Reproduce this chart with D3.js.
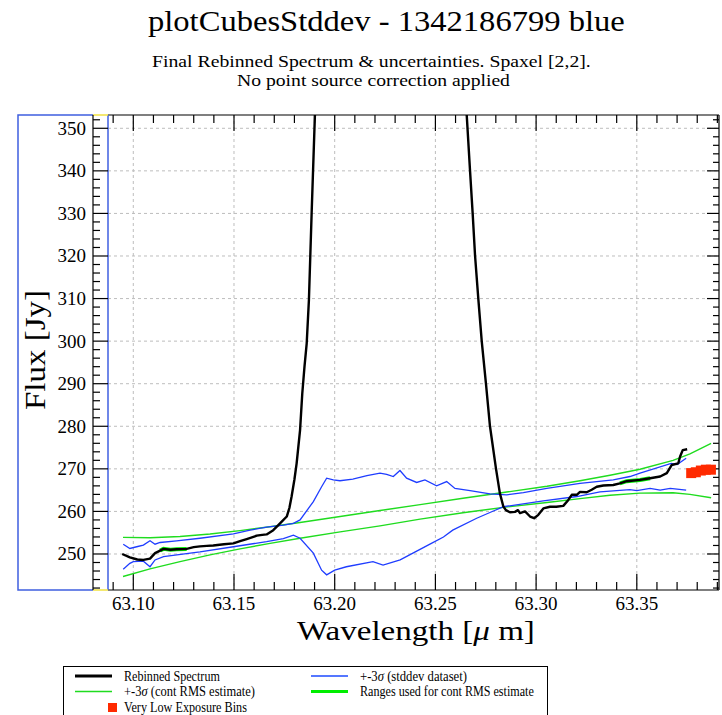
<!DOCTYPE html>
<html><head><meta charset="utf-8">
<script src="https://cdn.jsdelivr.net/npm/d3@7"></script>
<style>html,body{margin:0;padding:0;background:#fff;} svg{display:block;font-family:"Liberation Serif","Times New Roman",serif;}</style>
</head><body><svg id="c" width="722" height="715"></svg>
<script>
// ---------- DATA ----------
const specWave = [63.0945,63.0983,63.1020,63.1050,63.1083,63.1108,63.1133,63.1150,63.1185,63.1215,63.1265,63.1300,63.1331,63.1365,63.1397,63.1450,63.1497,63.1530,63.1563,63.1613,63.1640,63.1662,63.1695,63.1720,63.1737,63.1762,63.1775,63.1786,63.1800,63.1811,63.1828,63.1839,63.1850,63.1861,63.1872,63.1886,63.1902,63.1930,63.1980,63.2100,63.2280,63.2450,63.2570,63.2625,63.2655,63.2672,63.2685,63.2697,63.2713,63.2730,63.2751,63.2771,63.2801,63.2820,63.2837,63.2850,63.2870,63.2895,63.2910,63.2920,63.2945,63.2970,63.2990,63.3011,63.3036,63.3069,63.3100,63.3135,63.3160,63.3177,63.3202,63.3218,63.3251,63.3276,63.3301,63.3334,63.3383,63.3416,63.3450,63.3516,63.3566,63.3616,63.3649,63.3673,63.3706,63.3715,63.3728,63.3750];
const specFlux = [250.0,249.2,248.7,248.6,248.9,250.2,250.8,251.2,251.0,251.1,251.2,251.6,251.8,251.9,252.0,252.3,252.5,253.0,253.5,254.3,254.5,254.6,255.6,256.8,257.6,258.8,260.8,263.5,267.5,271.3,279.1,287.7,294.0,299.5,309.7,330.8,353.5,400,480,620,700,620,480,390,353.5,340,330,320,310,300,290,280,270,264.3,261.2,260.3,259.8,259.9,260.3,259.6,260.0,258.8,258.4,259.2,260.7,261.1,261.1,261.3,262.7,263.9,263.9,264.6,264.5,265.1,265.8,266.1,266.2,266.6,267.1,267.4,267.8,268.2,269.0,270.9,271.3,272.9,274.4,274.6];

const stdUpWave = [63.0950,63.0983,63.1017,63.1050,63.1083,63.1108,63.1133,63.1215,63.1331,63.1497,63.1580,63.1662,63.1745,63.1795,63.1828,63.1894,63.1935,63.1960,63.1993,63.2026,63.2090,63.2160,63.2225,63.2258,63.2291,63.2324,63.2357,63.2407,63.2448,63.2506,63.2556,63.2597,63.2672,63.2771,63.2854,63.2937,63.3053,63.3218,63.3383,63.3466,63.3516,63.3671,63.3700,63.3745];
const stdUpFlux = [252.3,251.3,251.7,252.1,253.1,252.3,252.7,253.1,253.7,254.7,255.6,256.3,256.8,257.2,258.0,262.3,265.8,267.8,267.4,267.2,267.6,268.4,269.0,268.7,268.2,269.6,267.8,266.8,267.4,266.0,267.0,265.4,264.9,264.1,263.9,264.4,265.4,266.6,267.4,268.2,269.0,271.3,271.0,272.5];

const stdLoWave = [63.0950,63.0983,63.1000,63.1050,63.1083,63.1108,63.1150,63.1331,63.1497,63.1662,63.1745,63.1795,63.1828,63.1894,63.1935,63.1960,63.2000,63.2058,63.2190,63.2240,63.2325,63.2400,63.2480,63.2540,63.2586,63.2705,63.2788,63.2838,63.3036,63.3202,63.3317,63.3466,63.3500,63.3566,63.3616,63.3666,63.3745];
const stdLoFlux = [246.4,247.8,248.2,248.3,247.0,248.6,249.4,250.5,251.7,252.9,253.6,254.4,253.7,250.2,246.2,245.1,246.2,247.0,248.2,247.4,248.6,250.5,252.5,254.0,255.6,258.4,260.1,261.1,262.5,263.5,264.6,265.1,264.9,265.4,265.0,265.4,265.0];

const rmsWave = [63.0949,63.1083,63.1232,63.1381,63.1530,63.1679,63.1828,63.2027,63.2225,63.2424,63.2637,63.2846,63.3054,63.3218,63.3367,63.3516,63.3680,63.3764,63.3869];
const rmsUpFlux = [253.9,253.8,254.1,254.7,255.5,256.4,257.4,258.8,260.2,261.6,263.1,264.5,265.9,267.2,268.5,269.9,272.0,273.5,276.0];
const rmsLoFlux = [244.7,246.5,248.2,249.8,251.2,252.5,253.7,255.2,256.6,258.2,259.7,261.0,262.1,263.0,263.8,264.3,264.4,264.0,263.2];

const rangeStart = [63.1120, 63.3390];
const rangeEnd   = [63.1275, 63.3570];

const lowExpWave = [63.3770, 63.3793, 63.3818, 63.3843, 63.3868];
const lowExpFlux = [269.0, 269.2, 269.6, 269.8, 269.8];

const xMajorTicks = [63.10, 63.15, 63.20, 63.25, 63.30, 63.35];
const xTickLabels = ["63.10","63.15","63.20","63.25","63.30","63.35"];
const yMajorTicks = [250, 260, 270, 280, 290, 300, 310, 320, 330, 340, 350];

const titleText = "plotCubesStddev - 1342186799 blue";
const subtitle1 = "Final Rebinned Spectrum & uncertainties. Spaxel [2,2].";
const subtitle2 = "No point source correction applied";

// ---------- LAYOUT ----------
const L = 108, R = 719, T = 115, B = 590;
const x = d3.scaleLinear().domain([63.08744, 63.39081]).range([L, R]);
const y = d3.scaleLinear().domain([241.54, 353.12]).range([B, T]);

const svg = d3.select("#c");
const BLUE = "#1f3dff", GREEN = "#1fdc1f", LIME = "#00ee00", RED = "#ff2a00";

// text placed at (px,py) and horizontally scaled to a target width
function label(parent, px, py, size, parts, width, rotate) {
  const g = parent.append("g");
  const t = g.append("text").attr("x", 0).attr("y", 0).attr("font-size", size);
  parts.forEach(p => {
    const s = t.append("tspan").text(p[0]);
    if (p[1]) s.attr("font-style", "italic");
  });
  const w = t.node().getComputedTextLength();
  const sx = width / w;
  g.attr("transform", `translate(${px},${py})` + (rotate ? ` rotate(${rotate})` : "") + ` scale(${sx},1)`);
  return g;
}

// titles
label(svg, 148, 31, 29, [[titleText]], 477);
label(svg, 152, 67, 17.5, [[subtitle1]], 439);
label(svg, 237, 86, 17.5, [[subtitle2]], 273);

// clip
svg.append("defs").append("clipPath").attr("id","clip")
  .append("rect").attr("x", L).attr("y", T).attr("width", R-L).attr("height", B-T);

// grid
const grid = svg.append("g").attr("stroke","#bdbdbd").attr("stroke-width",1).attr("stroke-dasharray","3,3");
xMajorTicks.forEach(v => grid.append("line").attr("x1", x(v)).attr("x2", x(v)).attr("y1", T).attr("y2", B));
yMajorTicks.forEach(v => grid.append("line").attr("x1", L).attr("x2", R).attr("y1", y(v)).attr("y2", y(v)));

// axes ticks (x minor every 0.01, y minor every 2)
const xMinor = d3.range(63.09, 63.3901, 0.01).map(v => +v.toFixed(2));
const yMinor = d3.range(242, 353, 2);
const ax = svg.append("g").attr("stroke","#000").attr("stroke-width",1.2);
ax.append("line").attr("x1", L).attr("x2", R).attr("y1", B).attr("y2", B);
ax.append("line").attr("x1", L).attr("x2", R).attr("y1", T).attr("y2", T);
ax.append("line").attr("x1", R).attr("x2", R).attr("y1", T).attr("y2", B);
xMinor.forEach(v => {
  const major = xMajorTicks.some(m => Math.abs(m - v) < 1e-6);
  const len = major ? 16 : 8;
  ax.append("line").attr("x1", x(v)).attr("x2", x(v)).attr("y1", B).attr("y2", B - len);
  ax.append("line").attr("x1", x(v)).attr("x2", x(v)).attr("y1", T).attr("y2", T + len);
});
yMinor.forEach(v => {
  const major = v % 10 === 0;
  ax.append("line").attr("x1", R).attr("x2", R - (major ? 12 : 6)).attr("y1", y(v)).attr("y2", y(v));
});

// left y-axis panel
const yAx = svg.append("g");
yAx.append("path").attr("d", `M93,${T} L18,${T} L18,${B} L93,${B}`).attr("fill","none").attr("stroke","#3f5fe0").attr("stroke-width",1.5);
yAx.append("line").attr("x1", L).attr("x2", L).attr("y1", T).attr("y2", B).attr("stroke","#3f5fe0").attr("stroke-width",1.5);
yAx.append("line").attr("x1", 93).attr("x2", L).attr("y1", T).attr("y2", T).attr("stroke","#f0e040").attr("stroke-width",1.5);
yAx.append("line").attr("x1", 93).attr("x2", L).attr("y1", B).attr("y2", B).attr("stroke","#f0e040").attr("stroke-width",1.5);
yAx.append("line").attr("x1", 93).attr("x2", 93).attr("y1", T).attr("y2", B).attr("stroke","#000").attr("stroke-width",1.2);
yMinor.forEach(v => {
  const major = v % 10 === 0;
  yAx.append("line").attr("x1", 93).attr("x2", major ? 108 : 100).attr("y1", y(v)).attr("y2", y(v)).attr("stroke","#000").attr("stroke-width",1.2);
});
yMajorTicks.forEach(v => {
  yAx.append("text").attr("x", 86).attr("y", y(v) + 6.5).attr("text-anchor","end").attr("font-size", 19).text(v);
});
xMajorTicks.forEach((v, i) => {
  svg.append("text").attr("x", x(v)).attr("y", 610).attr("text-anchor","middle").attr("font-size", 19).text(xTickLabels[i]);
});

// axis labels
label(svg, 45, 410, 29, [["Flux [Jy]"]], 120, -90);
label(svg, 297, 640, 27, [["Wavelength ["], ["μ", true], [" m]"]], 238);

// data
const plot = svg.append("g").attr("clip-path","url(#clip)");
const line = d3.line().x(d => x(d[0])).y(d => y(d[1]));
const zip = (a, b) => a.map((v, i) => [v, b[i]]);

plot.append("path").datum(zip(rmsWave, rmsUpFlux)).attr("d", line).attr("fill","none").attr("stroke", GREEN).attr("stroke-width",1.4);
plot.append("path").datum(zip(rmsWave, rmsLoFlux)).attr("d", line).attr("fill","none").attr("stroke", GREEN).attr("stroke-width",1.4);
plot.append("path").datum(zip(stdUpWave, stdUpFlux)).attr("d", line).attr("fill","none").attr("stroke", BLUE).attr("stroke-width",1.3);
plot.append("path").datum(zip(stdLoWave, stdLoFlux)).attr("d", line).attr("fill","none").attr("stroke", BLUE).attr("stroke-width",1.3);

const spec = zip(specWave, specFlux);
rangeStart.forEach((s, i) => {
  const seg = spec.filter(d => d[0] >= s && d[0] <= rangeEnd[i]);
  plot.append("path").datum(seg).attr("d", line).attr("fill","none").attr("stroke", LIME).attr("stroke-width",4);
});
plot.append("path").datum(spec).attr("d", line).attr("fill","none").attr("stroke","#000").attr("stroke-width",2.4).attr("stroke-linejoin","round");

plot.selectAll("rect.le").data(zip(lowExpWave, lowExpFlux)).enter().append("rect")
  .attr("x", d => x(d[0]) - 5).attr("y", d => y(d[1]) - 5).attr("width", 10).attr("height", 10).attr("fill", RED);

// legend
const lg = svg.append("g");
lg.append("rect").attr("x", 63.5).attr("y", 666.5).attr("width", 484).attr("height", 60).attr("fill","none").attr("stroke","#000").attr("stroke-width",1);
const lf = 14;
lg.append("line").attr("x1",75).attr("x2",112).attr("y1",676).attr("y2",676).attr("stroke","#000").attr("stroke-width",3);
label(lg, 124, 681, lf, [["Rebinned Spectrum"]], 96);
lg.append("line").attr("x1",75).attr("x2",112).attr("y1",691.5).attr("y2",691.5).attr("stroke",GREEN).attr("stroke-width",1.3);
label(lg, 124, 696, lf, [["+-3"], ["σ", true], ["  (cont RMS estimate)"]], 131);
lg.append("rect").attr("x",108).attr("y",703).attr("width",9).attr("height",9).attr("fill",RED);
label(lg, 124, 711.5, lf, [["Very Low Exposure Bins"]], 123);
lg.append("line").attr("x1",311).attr("x2",348).attr("y1",676).attr("y2",676).attr("stroke","#5577ff").attr("stroke-width",2);
label(lg, 360, 681, lf, [["+-3"], ["σ", true], [" (stddev dataset)"]], 107);
lg.append("line").attr("x1",311).attr("x2",348).attr("y1",691.5).attr("y2",691.5).attr("stroke",LIME).attr("stroke-width",3);
label(lg, 360, 696, lf, [["Ranges used for cont RMS estimate"]], 174);
</script></body></html>
